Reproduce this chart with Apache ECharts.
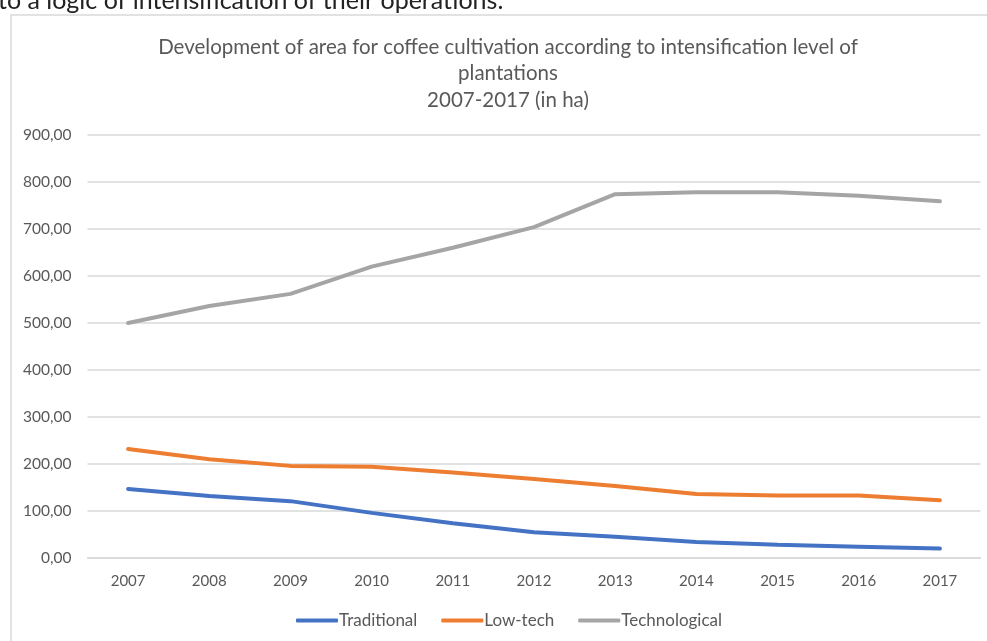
<!DOCTYPE html>
<html>
<head>
<meta charset="utf-8">
<script src="https://cdn.jsdelivr.net/npm/echarts@6/dist/echarts.min.js"></script>
<style>
html,body{margin:0;padding:0;background:#fff;}
#c{width:987px;height:641px;}
</style>
</head>
<body>
<div id="c"></div>
<script>
const years = ['2007','2008','2009','2010','2011','2012','2013','2014','2015','2016','2017'];
const traditional = [147,132,121,96,74,55,45,34,28,24,20];
const lowTech = [232,210,196,194,182,168,153,136,133,133,123];
const technological = [500,536,562,620,660,704,774,778,778,771,759];
const seriesNames = ['Traditional','Low-tech','Technological'];
const titleLines = ['Development of area for coffee cultivation according to intensification level of','plantations','2007-2017 (in ha)'];
const topText = 'to a logic of intensification of their operations.';

const font = 'Lato, "Open Sans", sans-serif';
const chart = echarts.init(document.getElementById('c'));
chart.setOption({
  animation:false,
  backgroundColor:'#fff',
  title:{
    text: titleLines.join('\n'),
    left:503, top:29, textAlign:'center',
    textStyle:{fontFamily:font,fontSize:20.5,fontWeight:'normal',color:'#595959',lineHeight:26.5}
  },
  graphic:[
    {type:'rect',shape:{x:11,y:15,width:990,height:640},style:{fill:'none',stroke:'#d9d9d9',lineWidth:1.5},silent:true},
    {type:'text',left:-2,top:-12,style:{text:topText,font:'25px '+font,fill:'#222'}}
  ],
  grid:{left:87.5,right:6.5,top:135,bottom:83,containLabel:false},
  legend:{
    bottom:7,left:291,
    itemWidth:42,itemHeight:4,itemGap:24,
    icon:'roundRect',
    textStyle:{fontFamily:font,fontSize:17,color:'#595959',padding:[0,0,0,-4]},
    data:seriesNames
  },
  xAxis:{
    type:'category',data:years,boundaryGap:true,
    axisLine:{show:true,lineStyle:{color:'#d9d9d9',width:1.5}},
    axisTick:{show:false},
    axisLabel:{fontFamily:font,fontSize:15,color:'#595959',margin:16}
  },
  yAxis:{
    type:'value',min:0,max:900,interval:100,
    axisLine:{show:false},axisTick:{show:false},
    splitLine:{lineStyle:{color:'#d9d9d9',width:1.5}},
    axisLabel:{fontFamily:font,fontSize:15.5,color:'#595959',margin:16,
      formatter:v=>v.toFixed(2).replace('.',',')}
  },
  series:[
    {name:seriesNames[0],type:'line',data:traditional,showSymbol:false,symbol:'none',lineStyle:{color:'#4472C4',width:4,cap:'round'},itemStyle:{color:'#4472C4'}},
    {name:seriesNames[1],type:'line',data:lowTech,showSymbol:false,symbol:'none',lineStyle:{color:'#ED7D31',width:4,cap:'round'},itemStyle:{color:'#ED7D31'}},
    {name:seriesNames[2],type:'line',data:technological,showSymbol:false,symbol:'none',lineStyle:{color:'#A5A5A5',width:4,cap:'round'},itemStyle:{color:'#A5A5A5'}}
  ]
});
</script>
</body>
</html>
